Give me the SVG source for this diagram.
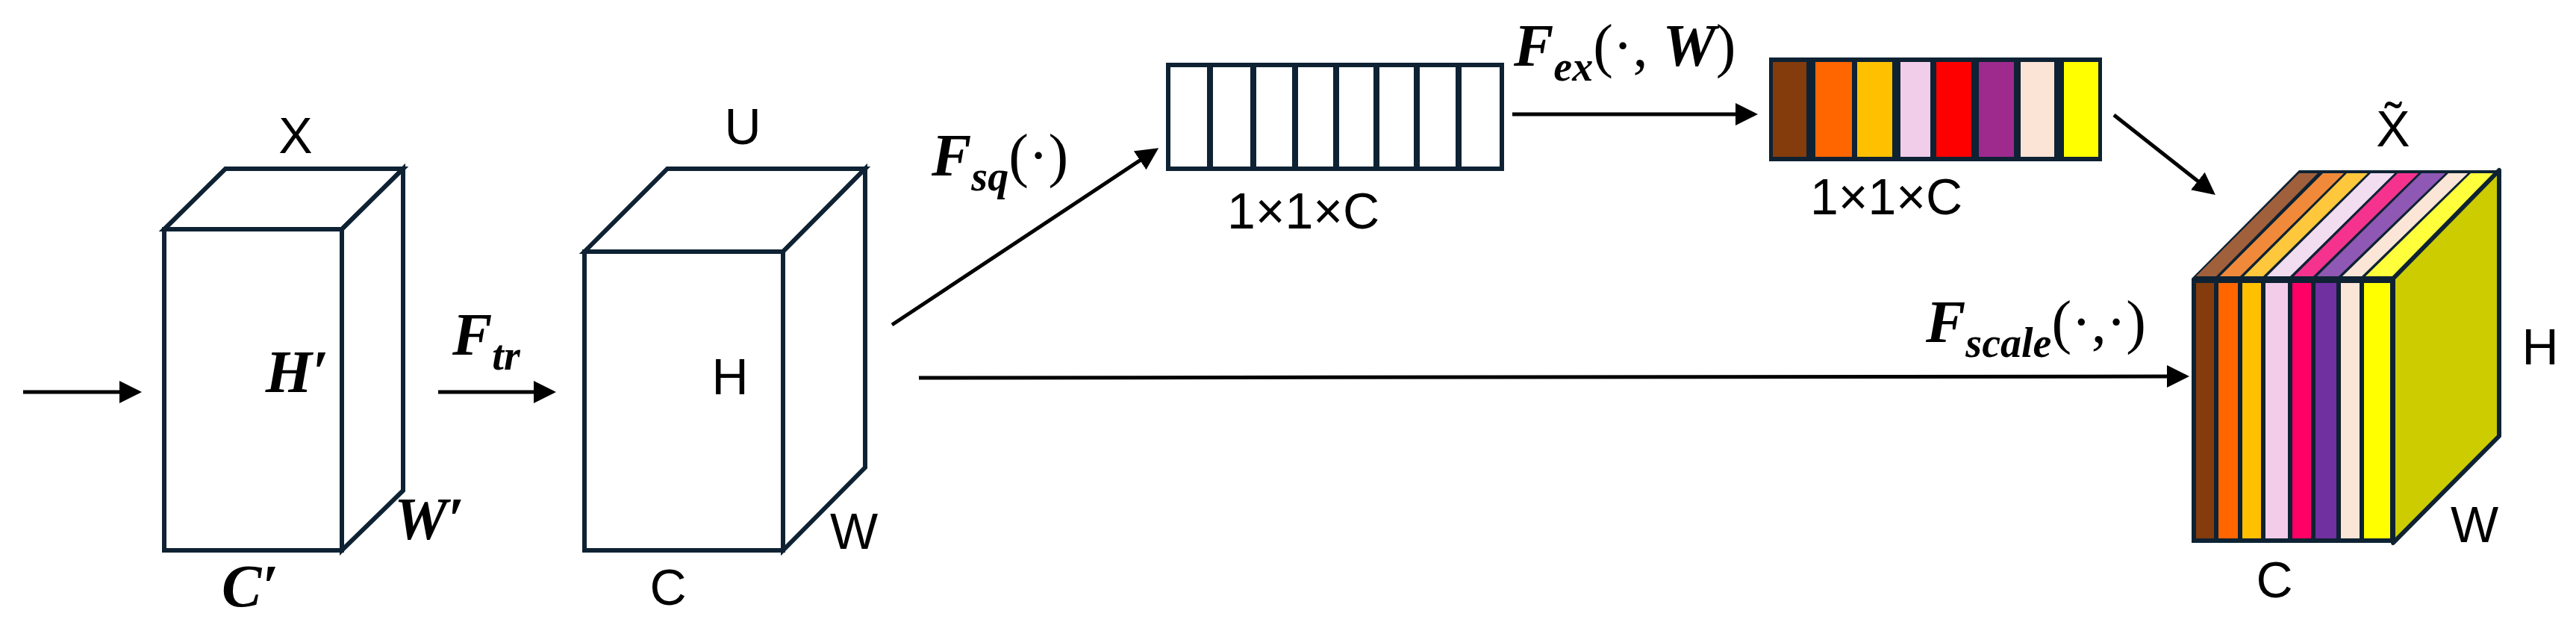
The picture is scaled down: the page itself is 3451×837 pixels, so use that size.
<svg xmlns="http://www.w3.org/2000/svg" width="3451" height="837" viewBox="0 0 3451 837">
<style>
.box{fill:#fff;stroke:#0e2233;stroke-width:6;stroke-linejoin:miter}
.ln{stroke:#000;stroke-width:5;fill:none}
.lbl{font-family:"Liberation Sans",Arial,sans-serif;font-size:68px;fill:#000;text-anchor:middle}
.m{font-family:"Liberation Serif","Times New Roman",serif;font-size:80px;font-style:italic;font-weight:bold;fill:#000}
.s{font-size:56px}
.r{font-style:normal;font-weight:normal}
.st{stroke:#0e2233;stroke-width:8}
</style>
<defs>
<marker id="ah" markerWidth="6" markerHeight="6" refX="5" refY="3" orient="auto" markerUnits="strokeWidth">
<path d="M0,0 L6,3 L0,6 z" fill="#000"/>
</marker>
</defs>
<g id="cube-x">
<path class="box" d="M220,307 L302,226 L540,226 L458,307 Z"/>
<path class="box" d="M458,307 L540,226 L540,657 L458,737 Z"/>
<rect class="box" x="220" y="307" width="238" height="430"/>
<text class="lbl" x="396" y="205">X</text>
<text class="m" x="398" y="525" text-anchor="middle">H′</text>
<text class="m" x="575" y="722" text-anchor="middle">W′</text>
<text class="m" x="335" y="812" text-anchor="middle">C′</text>
</g>
<g id="cube-u">
<path class="box" d="M783,337 L894,226 L1159,226 L1049,337 Z"/>
<path class="box" d="M1049,337 L1159,226 L1159,626 L1049,737 Z"/>
<rect class="box" x="783" y="337" width="266" height="400"/>
<text class="lbl" x="995" y="193">U</text>
<text class="lbl" x="978" y="528">H</text>
<text class="lbl" x="1144" y="735">W</text>
<text class="lbl" x="895" y="810">C</text>
</g>
<g id="vec-sq">
<rect class="box" x="1565" y="87" width="447" height="139"/>
<g class="st">
<line x1="1621" y1="87" x2="1621" y2="226"/><line x1="1679" y1="87" x2="1679" y2="226"/>
<line x1="1735" y1="87" x2="1735" y2="226"/><line x1="1790" y1="87" x2="1790" y2="226"/>
<line x1="1844" y1="87" x2="1844" y2="226"/><line x1="1898" y1="87" x2="1898" y2="226"/>
<line x1="1954" y1="87" x2="1954" y2="226"/>
</g>
<text class="lbl" x="1746" y="306">1×1×C</text>
</g>
<g id="vec-ex">
<rect x="2370" y="77" width="446" height="139" fill="#0e2233"/>
<rect x="2375" y="83" width="45" height="127" fill="#843c0c"/>
<rect x="2432" y="83" width="49" height="127" fill="#ff6600"/>
<rect x="2488" y="83" width="47" height="127" fill="#ffc000"/>
<rect x="2546" y="83" width="40" height="127" fill="#f2cdea"/>
<rect x="2594" y="83" width="47" height="127" fill="#ff0000"/>
<rect x="2651" y="83" width="47" height="127" fill="#9e2a8e"/>
<rect x="2707" y="83" width="45" height="127" fill="#fbe3d6"/>
<rect x="2765" y="83" width="46" height="127" fill="#ffff00"/>
<text class="lbl" x="2527" y="287">1×1×C</text>
</g>
<g id="cube-xt">
<path d="M2936,373 L3080,228 L3348,228 L3206,373 Z" fill="#0e2233"/>
<path d="M2942,370 L3080,232 L3105,232 L2969,370 Z" fill="#a0603c"/>
<path d="M2974,370 L3112,232 L3140,232 L3001,370 Z" fill="#f08a3a"/>
<path d="M3006,370 L3144,232 L3172,232 L3032,370 Z" fill="#ffc83c"/>
<path d="M3037,370 L3176,232 L3208,232 L3068,370 Z" fill="#f2dcf0"/>
<path d="M3073,370 L3212,232 L3240,232 L3099,370 Z" fill="#f5338f"/>
<path d="M3104,370 L3244,232 L3276,232 L3133,370 Z" fill="#8e58b4"/>
<path d="M3138,370 L3280,232 L3306,232 L3164,370 Z" fill="#fbe5d6"/>
<path d="M3169,370 L3310,232 L3342,232 L3206,370 Z" fill="#ffff3c"/>
<path d="M3206,373 L3348,228 L3348,584 L3206,727 Z" fill="#cccc00" stroke="#0e2233" stroke-width="6" stroke-linejoin="round"/>
<rect x="2936" y="373" width="270" height="354" fill="#0e2233"/>
<rect x="2942" y="379" width="24" height="342" fill="#843c0c"/>
<rect x="2972" y="379" width="26" height="342" fill="#ff6600"/>
<rect x="3004" y="379" width="25" height="342" fill="#ffc000"/>
<rect x="3035" y="379" width="30" height="342" fill="#f2cdea"/>
<rect x="3071" y="379" width="25" height="342" fill="#ff0066"/>
<rect x="3102" y="379" width="28" height="342" fill="#7030a0"/>
<rect x="3136" y="379" width="25" height="342" fill="#fbe5d6"/>
<rect x="3167" y="379" width="35" height="342" fill="#ffff00"/>
<text class="lbl" x="3206" y="196">X̃</text>
<text class="lbl" x="3403" y="488">H</text>
<text class="lbl" x="3315" y="726">W</text>
<text class="lbl" x="3047" y="800">C</text>
</g>
<g id="connectors">
<line class="ln" x1="31" y1="525" x2="185" y2="525" marker-end="url(#ah)"/>
<line class="ln" x1="587" y1="525" x2="740" y2="525" marker-end="url(#ah)"/>
<line class="ln" x1="1195" y1="435" x2="1548" y2="201" marker-end="url(#ah)"/>
<line class="ln" x1="2026" y1="153" x2="2350" y2="153" marker-end="url(#ah)"/>
<line class="ln" x1="2832" y1="154" x2="2964" y2="258" marker-end="url(#ah)"/>
<line class="ln" x1="1231" y1="506" x2="2928" y2="504" marker-end="url(#ah)"/>
</g>
<g id="labels">
<text class="m" x="606" y="475">F<tspan class="s" dy="20">tr</tspan></text>
<text class="m" x="1248" y="235">F<tspan class="s" dy="20">sq</tspan><tspan class="r" dy="-20">(·)</tspan></text>
<text class="m" x="2028" y="88">F<tspan class="s" dy="20">ex</tspan><tspan class="r" dy="-20">(·, </tspan>W<tspan class="r">)</tspan></text>
<text class="m" x="2580" y="458">F<tspan class="s" dy="20">scale</tspan><tspan class="r" dy="-20">(·,·)</tspan></text>
</g>
</svg>
